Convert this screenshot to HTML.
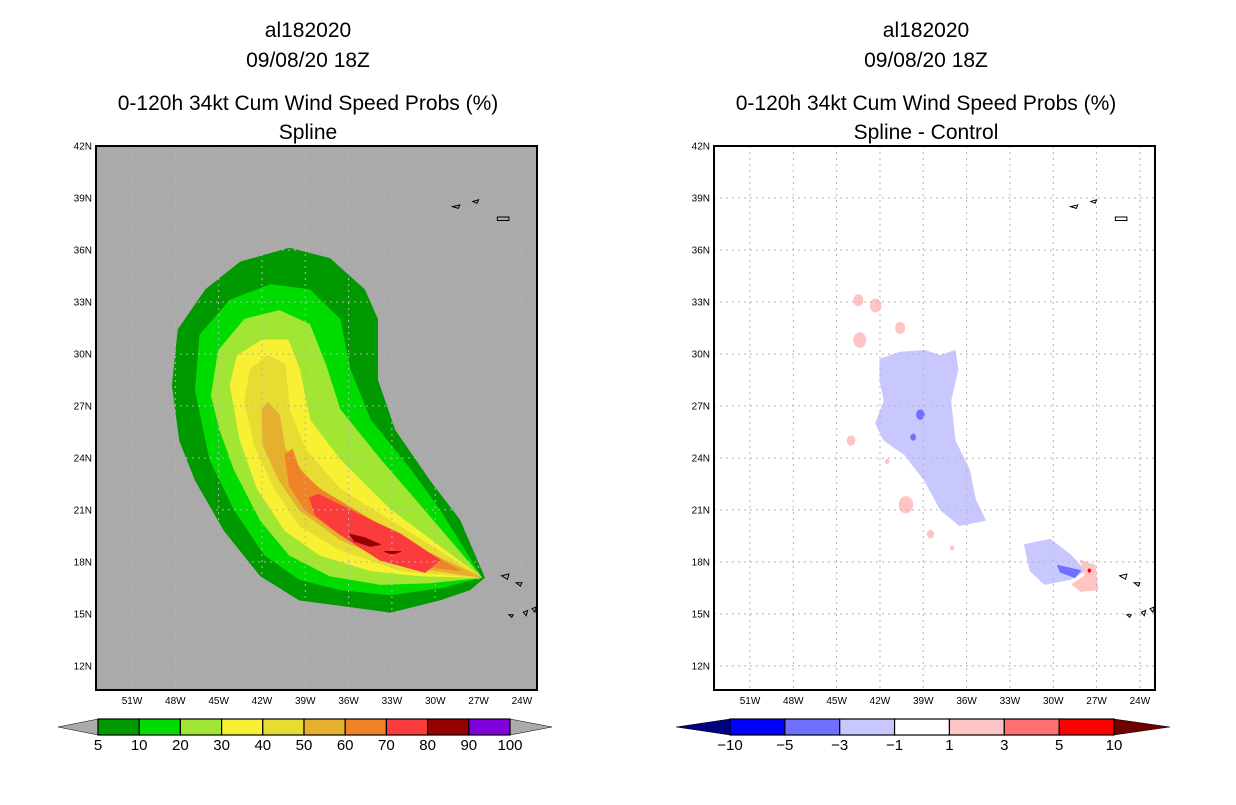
<!DOCTYPE html>
<html><head><meta charset="utf-8"><style>
body{margin:0;background:#fff}
svg text{font-family:"Liberation Sans",sans-serif}
.t{font-size:21px;text-anchor:middle;fill:#000}
.tk{font-size:10px;fill:#000}
.cb{font-size:15px;text-anchor:middle;fill:#000}
</style></head><body>
<svg id="s" width="1236" height="800" viewBox="0 0 1236 800" xmlns="http://www.w3.org/2000/svg">
<g>
<text class="t" x="308" y="37">al182020</text>
<text class="t" x="308" y="67">09/08/20 18Z</text>
<text class="t" x="308" y="110">0-120h 34kt Cum Wind Speed Probs (%)</text>
<text class="t" x="308" y="139">Spline</text>
</g>
<g>
<text class="t" x="926" y="37">al182020</text>
<text class="t" x="926" y="67">09/08/20 18Z</text>
<text class="t" x="926" y="110">0-120h 34kt Cum Wind Speed Probs (%)</text>
<text class="t" x="926" y="139">Spline - Control</text>
</g>
<g id="L"></g>
<g id="R"></g>
<g id="CB"></g>
</svg>
<script>
const latTicks=[42,39,36,33,30,27,24,21,18,15,12];
const lonTicks=[51,48,45,42,39,36,33,30,27,24];
const probLevels=[5,10,20,30,40,50,60,70,80,90,100];
const probColors=["#009a00","#00dc00","#a0e632","#f8f032","#e6dc32","#e6af2d","#f08228","#fa3c3c","#960000","#8200dc"];
const diffLevels=[-10,-5,-3,-1,1,3,5,10];
const diffColors=["#0000ff","#7070ff","#c8c8ff","#ffffff","#ffc4c4","#ff7070","#ff0000"];
// contours (lonW, latN)
const c5=[[48.2,28.2],[47.8,31.4],[45.9,33.7],[43.5,35.3],[40.1,36.1],[37.3,35.5],[34.9,33.7],[34.0,32.0],[34.0,28.5],[32.8,25.6],[30.4,22.7],[28.3,20.4],[26.6,17.1],[27.6,16.4],[29.7,15.8],[33.1,15.1],[36.6,15.5],[39.4,15.8],[42.1,17.2],[44.6,19.8],[46.6,22.7],[47.7,25.0]];
const c10=[[46.6,27.9],[46.3,31.1],[44.2,33.1],[41.4,34.0],[38.7,33.7],[36.6,32.0],[35.9,29.1],[34.5,26.2],[31.7,23.3],[29.7,21.0],[26.8,17.1],[29.7,16.5],[33.1,16.1],[36.6,16.4],[39.4,17.0],[41.8,18.4],[43.9,21.0],[45.6,23.9]];
const c20=[[45.5,27.6],[45.0,30.2],[43.2,32.0],[40.8,32.5],[38.7,31.7],[37.6,29.4],[36.6,26.8],[33.8,23.9],[31.1,21.3],[26.8,17.1],[30.4,16.8],[33.8,16.7],[37.3,17.2],[40.1,18.4],[42.1,20.4],[43.9,23.3],[44.9,25.6]];
const c30=[[44.2,28.2],[43.7,29.9],[42.0,30.8],[40.2,30.8],[39.4,29.1],[38.7,26.2],[36.6,23.9],[33.1,21.0],[26.8,17.1],[31.1,17.2],[34.5,17.5],[38.0,18.4],[40.4,19.8],[42.3,22.2],[43.5,25.0]];
const c40=[[43.2,27.3],[42.8,29.1],[41.6,29.9],[40.4,29.4],[40.1,26.8],[39.0,24.5],[36.6,22.2],[26.8,17.1],[32.4,17.5],[36.6,18.7],[39.4,20.1],[41.1,22.2],[42.5,24.7]];
const c50=[[42.0,26.8],[41.6,27.2],[40.8,26.5],[40.4,24.5],[38.7,22.7],[35.2,20.4],[26.8,17.1],[32.4,17.8],[36.6,19.3],[39.4,21.0],[40.8,22.7],[41.9,24.7]];
const c60=[[40.4,24.2],[39.9,24.5],[39.4,23.3],[38.0,22.2],[33.8,20.1],[28.3,17.5],[32.4,17.9],[36.6,19.6],[39.0,21.0],[40.1,22.4]];
const c70=[[38.7,21.7],[38.1,21.9],[35.2,20.7],[32.4,19.6],[29.7,18.1],[30.7,17.4],[33.8,18.1],[36.6,19.6],[38.3,20.7]];
const c80a=[[35.9,19.6],[34.9,19.4],[33.8,19.0],[34.5,18.9],[35.6,19.2]];
const c80b=[[33.5,18.6],[32.4,18.6],[33.0,18.45]];
const dNeg1=[[42.0,29.7],[40.6,30.1],[38.9,30.2],[37.8,29.9],[36.8,30.2],[36.6,29.1],[37.1,27.3],[36.8,25.0],[35.8,23.3],[35.4,21.6],[34.7,20.4],[36.5,20.1],[37.8,21.0],[38.9,22.7],[40.3,24.2],[41.7,25.0],[42.3,26.0],[41.7,27.3],[42.0,28.5]];
const dNeg2=[[32.0,19.0],[30.2,19.3],[28.8,18.4],[27.8,17.5],[28.8,17.0],[30.6,16.7],[31.6,17.5]];
const dNeg3=[[29.7,17.8],[28.1,17.5],[28.5,17.1],[29.5,17.4]];
const dPos1=[[28.1,18.1],[27.1,17.8],[26.9,16.4],[28.1,16.3],[28.7,16.7],[27.8,17.2]];
const negSpots=[[39.2,26.5,0.3],[39.7,25.2,0.2]];
const posSpots=[[43.5,33.1,0.35],[43.4,30.8,0.45],[42.3,32.8,0.4],[40.6,31.5,0.35],[40.2,21.3,0.5],[44.0,25.0,0.3],[38.5,19.6,0.25],[41.5,23.8,0.15],[37.0,18.8,0.15]];
const NS="http://www.w3.org/2000/svg";
function mk(p,tag,at){const e=document.createElementNS(NS,tag);for(const k in at)e.setAttribute(k,at[k]);p.appendChild(e);return e;}
function panel(g,x0,bg){
  const X=lon=>x0+36+(51-lon)*14.44, Y=lat=>146+(42-lat)*17.33;
  const r=mk(g,'rect',{x:x0,y:146,width:441,height:544,fill:bg});
  
  return {X,Y};
}
function poly(g,P,pts,fill,name){
  const d=pts.map(p=>P.X(p[0]).toFixed(1)+','+P.Y(p[1]).toFixed(1)).join(' ');
  const e=mk(g,'polygon',{points:d,fill:fill,'stroke':fill,'stroke-width':1,'stroke-linejoin':'round'});
  
}
function grid(g,P,x0){
  latTicks.forEach(l=>{const y=P.Y(l);
    const ln=mk(g,'line',{x1:x0,x2:x0+441,y1:y,y2:y,stroke:'#b4b4b4','stroke-dasharray':'2,4'});
    
    const t=mk(g,'text',{x:x0-4,y:y+3.5,'text-anchor':'end',class:'tk'});t.textContent=l+'N';
    });
  lonTicks.forEach(l=>{const x=P.X(l);
    const ln=mk(g,'line',{x1:x,x2:x,y1:146,y2:690,stroke:'#b4b4b4','stroke-dasharray':'2,4'});
    
    const t=mk(g,'text',{x:x,y:704,'text-anchor':'middle',class:'tk'});t.textContent=l+'W';
    });
  const isl=[[[28.8,38.5],[28.3,38.6],[28.4,38.4]],[[27.4,38.8],[27.0,38.9],[27.1,38.7]],[[25.7,37.9],[24.9,37.9],[24.9,37.7],[25.7,37.7]],[[25.4,17.2],[24.9,17.3],[25.0,17.0]],[[24.4,16.8],[24.0,16.8],[24.1,16.6]],[[23.9,15.1],[23.6,15.2],[23.7,14.9]],[[23.3,15.3],[23.0,15.4],[23.1,15.1]],[[24.9,14.95],[24.6,14.95],[24.7,14.8]]];
  isl.forEach(p=>{const d=p.map(q=>P.X(q[0])+','+P.Y(q[1])).join(' ');
    const e=mk(g,'polygon',{points:d,fill:'none',stroke:'#000','stroke-width':1});
    });
  const f=mk(g,'rect',{x:x0,y:146,width:441,height:544,fill:'none',stroke:'#000','stroke-width':2});
  
}
const L=document.getElementById('L'),R=document.getElementById('R');
const PL=panel(L,96,'#aaaaaa');
[c5,c10,c20,c30,c40,c50,c60,c70,c80a,c80b].forEach((c,i)=>poly(L,PL,c,probColors[Math.min(i,8)],'prob-contour-'+probLevels[Math.min(i,8)]));
grid(L,PL,96);
const PR=panel(R,714,'#ffffff');
poly(R,PR,dNeg1,diffColors[2],'diff-contour-neg1');
poly(R,PR,dNeg2,diffColors[2],'diff-contour-neg1b');
poly(R,PR,dNeg3,diffColors[1],'diff-contour-neg3');
poly(R,PR,dPos1,diffColors[4],'diff-contour-pos1');
function spot(s,col,name){const e=mk(R,'ellipse',{cx:PR.X(s[0]),cy:PR.Y(s[1]),rx:s[2]*14.44,ry:s[2]*17.33,fill:col});
  }
negSpots.forEach(s=>spot(s,diffColors[1],'diff-spot-neg'));
posSpots.forEach(s=>spot(s,diffColors[4],'diff-spot-pos'));
spot([27.5,17.5,0.12],diffColors[6],'diff-spot-max');
grid(R,PR,714);
const CB=document.getElementById('CB');
function cbar(x0,x1,labels,cols,lc,rc,tl,tr,name){
  const n=cols.length,w=(x1-x0)/n;
  const a=mk(CB,'polygon',{points:`${tl},727 ${x0},719 ${x0},735`,fill:lc,stroke:'#000','stroke-width':0.5});
  
  const b=mk(CB,'polygon',{points:`${tr},727 ${x1},719 ${x1},735`,fill:rc,stroke:'#000','stroke-width':0.5});
  
  cols.forEach((c,i)=>{const r=mk(CB,'rect',{x:x0+i*w,y:719,width:w,height:16,fill:c,stroke:'#000','stroke-width':1.2});
    });
  labels.forEach((l,i)=>{const t=mk(CB,'text',{x:x0+i*w,y:750,class:'cb'});t.textContent=String(l).replace('-','\u2212');
    });
}
cbar(98,510,probLevels,probColors,'#aaaaaa','#aaaaaa',58,552,'prob-colorbar');
cbar(730,1114,diffLevels,diffColors,'#000080','#700000',676,1170,'diff-colorbar');
</script>
</body></html>
